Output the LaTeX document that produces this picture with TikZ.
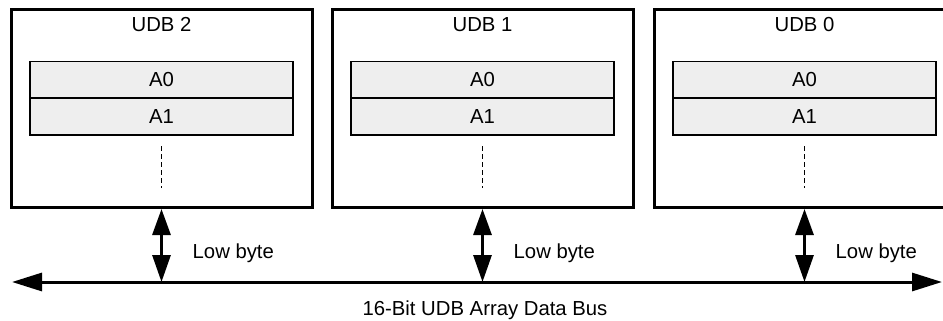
\documentclass[tikz,border=0pt]{standalone}
\usepackage{fontspec}
\setmainfont{Liberation Sans}
\usetikzlibrary{arrows.meta}
\definecolor{regfill}{HTML}{EEEEEE}
\begin{document}
\begin{tikzpicture}[x=1pt,y=-1pt,
  udb/.style={draw,line width=3pt,minimum width=301pt,minimum height=198pt,inner sep=0pt},
  reg/.style={draw,line width=1.5pt,fill=regfill,minimum width=263pt,minimum height=36.5pt,inner sep=0pt,font=\fontsize{20.3}{23}\selectfont},
  txt/.style={font=\fontsize{20.3}{23}\selectfont,inner sep=0pt},
  dots/.style={line width=1.8pt,dash pattern=on 5pt off 3pt},
  dbl/.style={line width=3pt,{Triangle[length=26pt,width=18pt]}-{Triangle[length=27pt,width=18pt]}},
  bus/.style={line width=3pt,{Triangle[length=30pt,width=18pt]}-{Triangle[length=30pt,width=18pt]}}]
\useasboundingbox (0,0) rectangle (943,321);
\foreach \n/\cx in {2/161.5,1/482.5,0/804.5} {
  \node[udb] (udb\n) at (\cx,108.5) {};
  \node[txt] (t\n) at (\cx,25) {UDB \n};
  \node[reg] (a0\n) at (\cx,80) {A0};
  \node[reg] (a1\n) at (\cx,116.5) {A1};
  \coordinate (ds\n) at (\cx,146);
  \coordinate (de\n) at (\cx,188);
  \draw[dots] (ds\n) -- (de\n);
  \coordinate (b\n) at (\cx,282);
  \draw[dbl] (udb\n.south) -- (b\n);
  \node[txt,anchor=west] (lb\n) at (\cx+31,253) {Low byte};
}
\coordinate (busL) at (12,282);
\coordinate (busR) at (942,282);
\draw[bus] (busL) -- (busR);
\node[txt] (buslabel) at (485,310) {16-Bit UDB Array Data Bus};
\end{tikzpicture}
\end{document}
